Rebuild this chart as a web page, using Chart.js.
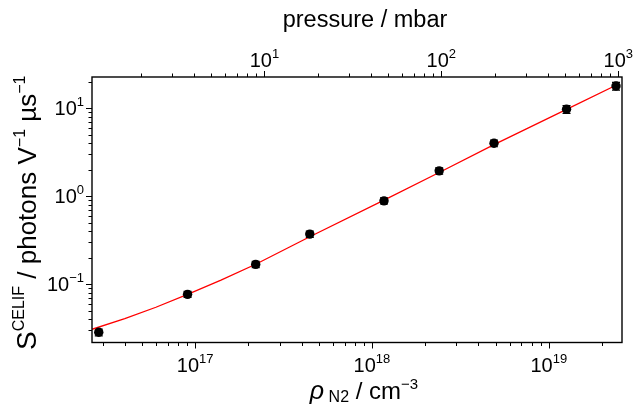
<!DOCTYPE html>
<html>
<head>
<meta charset="utf-8">
<script src="https://cdn.jsdelivr.net/npm/chart.js@4.4.1/dist/chart.umd.min.js"></script>
<style>
  html, body { margin: 0; padding: 0; background: #fff; }
  canvas { display: block; }
</style>
</head>
<body>
<canvas id="chart" width="636" height="409"></canvas>
<script>
// CELIF signal vs N2 number density (log-log)
const densities = [2.85e16, 9.06e16, 2.2e17, 4.45e17, 1.17e18, 2.4e18, 4.9e18, 1.26e19, 2.4e19];
const signals = [0.0283, 0.0764, 0.1675, 0.370, 0.885, 1.94, 4.0, 9.74, 17.9];
const signalErrors = [0.0025, 0.006, 0.014, 0.03, 0.07, 0.16, 0.35, 1.0, 1.8];

// red fit curve
const fitDensities = [2.61e16, 4e16, 6e16, 9.06e16, 1.4e17, 2.2e17, 4.45e17, 1.17e18, 2.4e18, 4.9e18, 1.26e19, 2.5e19];
const fitSignals = [0.0306, 0.0405, 0.0545, 0.0764, 0.111, 0.168, 0.345, 0.90, 1.86, 3.85, 9.7, 19.0];

// axis ranges and labelled ticks
const densityRange = [2.61e16, 2.595e19];
const pressureRange = [1.06, 1050];
const signalRange = [0.02164, 22.68];
const densityTicks = [1e17, 1e18, 1e19];
const pressureTicks = [10, 100, 1000];
const signalTicks = [0.1, 1, 10];

const FONT = '"Liberation Sans", Arial, sans-serif';

function drawRich(ctx, parts, x, y, align) {
    // parts: [text, size, raise, italic]
    let w = 0;
    const widths = [];
    for (const p of parts) {
        ctx.font = (p[3] ? 'italic ' : '') + p[1] + 'px ' + FONT;
        const m = ctx.measureText(p[0]).width;
        widths.push(m); w += m;
    }
    let cx = align === 'right' ? x - w : x - w / 2;
    ctx.textAlign = 'left';
    ctx.textBaseline = 'alphabetic';
    parts.forEach((p, i) => {
        ctx.font = (p[3] ? 'italic ' : '') + p[1] + 'px ' + FONT;
        ctx.fillText(p[0], cx, y - p[2]);
        cx += widths[i];
    });
}

function powLabel(v) {
    const e = Math.round(Math.log10(v));
    return [['10', 20, 0], [String(e).replace('-', '\u2212'), 13, 9]];
}

function logTicks(min, max) {
    const out = [];
    for (let d = Math.floor(Math.log10(min)); d <= Math.ceil(Math.log10(max)); d++) {
        for (let m = 1; m <= 9; m++) {
            const v = m * Math.pow(10, d);
            if (v >= min * 0.999 && v <= max * 1.001) out.push({ v, major: m === 1 });
        }
    }
    return out;
}

const axesPlugin = {
    id: 'axesPlugin',
    beforeDatasetsDraw(chart) {
        const ctx = chart.ctx, x = chart.scales.x, y = chart.scales.y;
        ctx.save();
        ctx.strokeStyle = '#000';
        ctx.lineWidth = 1.2;
        densities.forEach((d, i) => {
            const px = x.getPixelForValue(d);
            const top = y.getPixelForValue(signals[i] + signalErrors[i]);
            const bot = y.getPixelForValue(signals[i] - signalErrors[i]);
            ctx.beginPath();
            ctx.moveTo(px, top); ctx.lineTo(px, bot);
            ctx.moveTo(px - 4, top); ctx.lineTo(px + 4, top);
            ctx.moveTo(px - 4, bot); ctx.lineTo(px + 4, bot);
            ctx.stroke();
        });
        ctx.restore();
    },
    afterDraw(chart) {
        const ctx = chart.ctx, a = chart.chartArea;
        const x = chart.scales.x, x2 = chart.scales.x2, y = chart.scales.y;
        ctx.save();
        ctx.fillStyle = '#000';
        ctx.strokeStyle = '#000';

        // ticks
        ctx.lineWidth = 1;
        ctx.beginPath();
        for (const t of logTicks(densityRange[0], densityRange[1])) {
            const px = Math.round(x.getPixelForValue(t.v)) + 0.5;
            ctx.moveTo(px, a.bottom); ctx.lineTo(px, a.bottom + (t.major ? 6 : 3.5));
        }
        for (const t of logTicks(pressureRange[0], pressureRange[1])) {
            const px = Math.round(x2.getPixelForValue(t.v)) + 0.5;
            ctx.moveTo(px, a.top); ctx.lineTo(px, a.top - (t.major ? 6 : 3.5));
        }
        for (const t of logTicks(signalRange[0], signalRange[1])) {
            const py = Math.round(y.getPixelForValue(t.v)) + 0.5;
            ctx.moveTo(a.left, py); ctx.lineTo(a.left - (t.major ? 6 : 3.5), py);
        }
        ctx.stroke();

        // frame
        ctx.lineWidth = 1.4;
        ctx.strokeRect(a.left, a.top, a.right - a.left, a.bottom - a.top);

        // tick labels
        for (const v of densityTicks) drawRich(ctx, powLabel(v), x.getPixelForValue(v), a.bottom + 29);
        for (const v of pressureTicks) drawRich(ctx, powLabel(v), x2.getPixelForValue(v), a.top - 10);
        for (const v of signalTicks) drawRich(ctx, powLabel(v), a.left - 8, y.getPixelForValue(v) + 7, 'right');

        // axis titles
        const cx = (a.left + a.right) / 2;
        drawRich(ctx, [['pressure / mbar', 23.5, 0]], cx + 8, 27);
        drawRich(ctx, [['\u03c1', 25, 0, true], [' N2', 16, -3], [' / cm', 24, 0], ['\u22123', 15, 10]], cx + 7, 399);
        ctx.translate(36, (a.top + a.bottom) / 2 + 3);
        ctx.rotate(-Math.PI / 2);
        drawRich(ctx, [['S', 28, 0], ['CELIF', 16, 12], [' / photons V', 26, 0], ['\u22121', 16, 11], [' \u00b5s', 26, 0], ['\u22121', 16, 11]], 0, 0);
        ctx.restore();
    }
};

new Chart(document.getElementById('chart'), {
    type: 'scatter',
    data: {
        datasets: [
            {
                label: 'fit', type: 'line', order: 2,
                data: fitDensities.map((d, i) => ({ x: d, y: fitSignals[i] })),
                borderColor: '#ff0000', borderWidth: 1.3, pointRadius: 0, fill: false, tension: 0
            },
            {
                label: 'CELIF', order: 1,
                data: densities.map((d, i) => ({ x: d, y: signals[i] })),
                backgroundColor: '#000', borderColor: '#000', pointRadius: 4.7, pointBorderWidth: 0
            }
        ]
    },
    options: {
        responsive: false, animation: false, devicePixelRatio: 1,
        layout: { padding: { left: 92, right: 14, top: 77, bottom: 66.5 } },
        plugins: { legend: { display: false }, tooltip: { enabled: false } },
        scales: {
            x: {
                type: 'logarithmic', position: 'bottom', min: densityRange[0], max: densityRange[1],
                grid: { display: false }, border: { display: false }, ticks: { display: false },
                afterFit: s => { s.height = 0; }
            },
            x2: {
                type: 'logarithmic', position: 'top', min: pressureRange[0], max: pressureRange[1],
                grid: { display: false }, border: { display: false }, ticks: { display: false },
                afterFit: s => { s.height = 0; }
            },
            y: {
                type: 'logarithmic', position: 'left', min: signalRange[0], max: signalRange[1],
                grid: { display: false }, border: { display: false }, ticks: { display: false },
                afterFit: s => { s.width = 0; }
            }
        }
    },
    plugins: [axesPlugin]
});
</script>
</body>
</html>
